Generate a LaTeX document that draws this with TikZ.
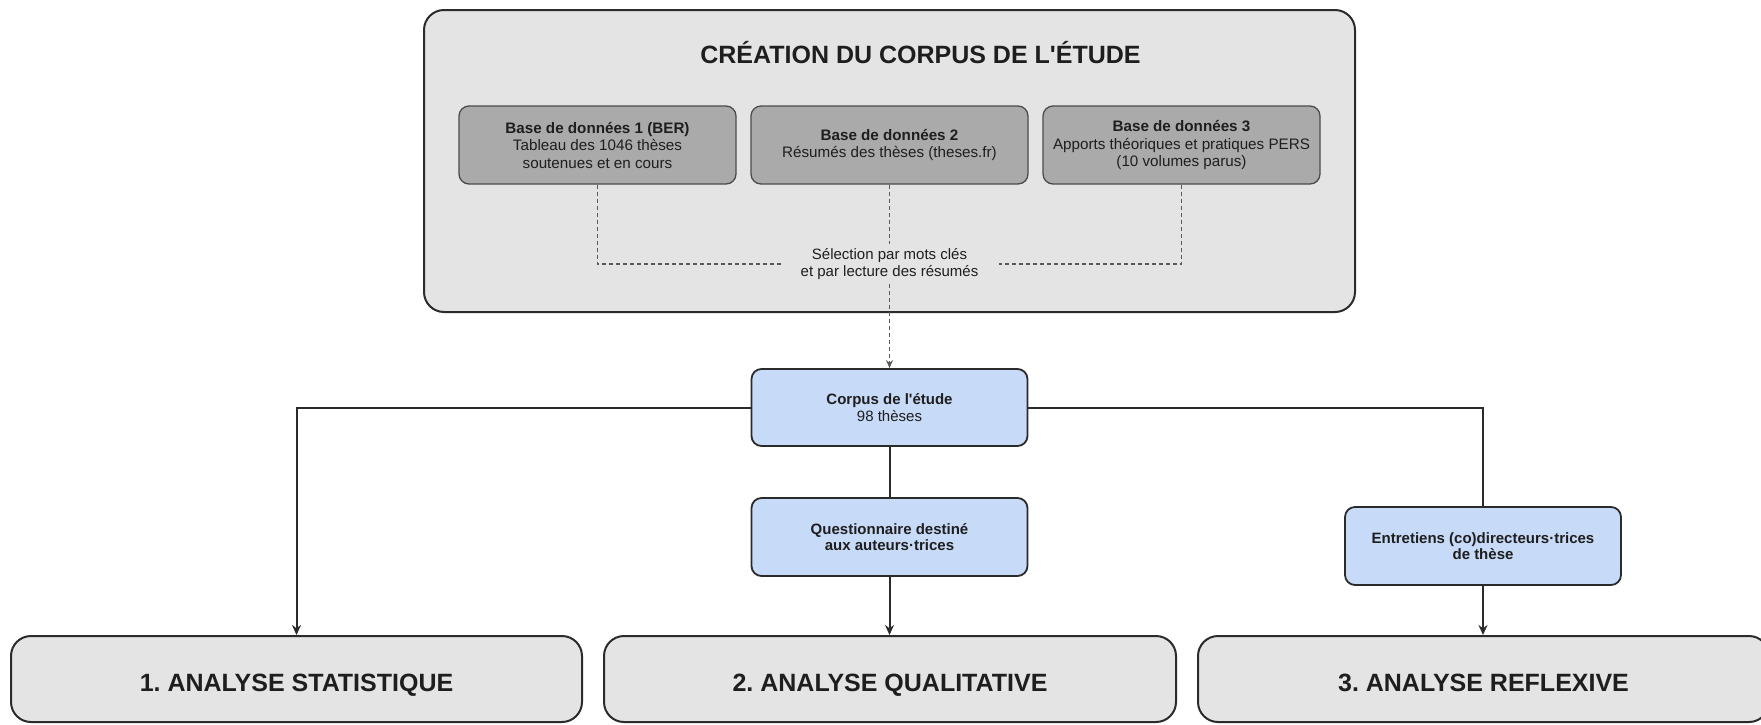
\documentclass[tikz,border=0pt]{standalone}
\usepackage{fontspec}
\setmainfont{Liberation Sans}
\usetikzlibrary{arrows.meta}
\definecolor{panel}{HTML}{E4E4E4}
\definecolor{dbfill}{HTML}{AAAAAA}
\definecolor{bluefill}{HTML}{C7DAF7}
\definecolor{edge}{HTML}{2B2B2B}
\definecolor{txt}{HTML}{1E1E1E}
\definecolor{dashc}{HTML}{5A5A5A}
\begin{document}
\frenchspacing
\begin{tikzpicture}[x=1pt,y=-1pt,
 panelbox/.style={draw=edge,line width=2pt,fill=panel,rounded corners=20pt,inner sep=0pt},
 dbbox/.style={draw=edge!85,line width=1.3pt,fill=dbfill,rounded corners=10pt,minimum width=277pt,minimum height=78pt,inner sep=0pt,align=center,font=\fontsize{15.2}{17.5}\selectfont,text=txt},
 bluebox/.style={draw=edge,line width=1.8pt,fill=bluefill,rounded corners=10pt,minimum width=276pt,minimum height=77pt,inner sep=0pt,align=center,font=\fontsize{15}{16.5}\selectfont,text=txt},
 stagebox/.style={panelbox,minimum width=571pt,minimum height=86pt},
 stagetext/.style={text=txt,font=\bfseries\fontsize{25}{28}\selectfont,inner sep=0pt,anchor=base},
 link/.style={draw=edge,line width=2pt},
 linkarrow/.style={link,-{Stealth[length=10pt,width=9pt]}},
 dashlink/.style={draw=dashc,line width=1.2pt,dash pattern=on 4pt off 3pt},
]
\useasboundingbox (0,0) rectangle (1761,724);
\clip (0,0) rectangle (1761,724);

% top panel
\node[panelbox,minimum width=931pt,minimum height=302pt] (panel) at (889.5,161) {};
\node[text=txt,font=\bfseries\fontsize{25}{28}\selectfont,inner sep=0pt,anchor=base] (title) at (920.5,63) {CRÉATION DU CORPUS DE L\textquotesingle ÉTUDE};

\node[dbbox] (db1) at (597.5,145) {\textbf{Base de données 1 (BER)}\\Tableau des 1046 thèses\\soutenues et en cours};
\node[dbbox] (db2) at (889.5,145) {\textbf{Base de données 2}\\Résumés des thèses (theses.fr)};
\node[dbbox] (db3) at (1181.5,145) {\textbf{Base de données 3}\\Apports théoriques et pratiques PERS\\(10 volumes parus)};

\node[text=txt,align=center,font=\fontsize{15}{17.5}\selectfont,inner xsep=20pt,inner ysep=4pt] (sel) at (889.5,264) {Sélection par mots clés\\et par lecture des résumés};

% blue boxes
\node[bluebox] (corpus) at (889.5,407.5) {\textbf{Corpus de l\textquotesingle étude}\\98 thèses};
\node[bluebox,minimum height=78pt] (quest) at (889.5,537) {\textbf{Questionnaire destiné}\\\textbf{aux auteurs·trices}};
\node[bluebox,minimum height=78pt] (entr) at (1483,546) {\textbf{Entretiens (co)directeurs·trices}\\\textbf{de thèse}};

% stage boxes
\node[stagebox] (stat) at (296.5,679) {};
\node[stagebox,minimum width=572pt] (qual) at (890,679) {};
\node[stagebox] (refl) at (1483.5,679) {};
\node[stagetext] (statlbl) at (296.5,691.5) {1. ANALYSE STATISTIQUE};
\node[stagetext] (quallbl) at (890,691.5) {2. ANALYSE QUALITATIVE};
\node[stagetext] (refllbl) at (1483.5,691.5) {3. ANALYSE REFLEXIVE};

% dashed connectors
\draw[dashlink] (db1.south) |- (sel.west);
\draw[dashlink] (db3.south) |- (sel.east);
\draw[dashlink] (db2.south) -- (sel.north);
\draw[dashlink,-{Stealth[length=8pt,width=7pt]}] (sel.south) -- (corpus.north);

% solid connectors
\draw[linkarrow] (corpus.west) -| (stat.north);
\draw[link] (corpus.east) -| (entr.north);
\draw[link] (corpus.south) -- (quest.north);
\draw[linkarrow] (quest.south) -- (quest.south |- qual.north);
\draw[linkarrow] (entr.south) -- (entr.south |- refl.north);
\end{tikzpicture}
\end{document}
